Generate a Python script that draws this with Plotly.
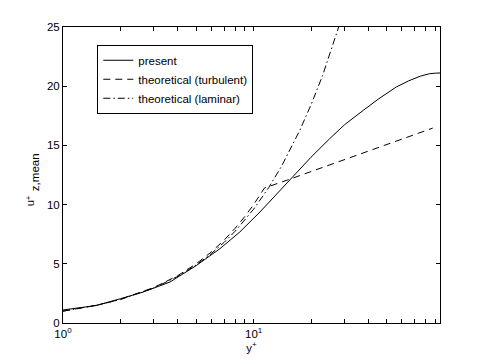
import plotly.graph_objects as go

# values
present_y = [1, 1.5, 2, 2.64, 3.64, 5.0, 6.66, 8.47, 10.8, 15.5, 20, 25, 30, 37.6, 45, 56, 65,
             75, 84, 90, 95]
present_u = [1.1, 1.48, 2.05, 2.62, 3.46, 4.85, 6.28, 7.69, 9.38, 12.1, 14.0, 15.55, 16.75, 17.96,
             18.9, 19.93, 20.45, 20.85, 21.06, 21.1, 21.12]

turb_y = [1, 1.5, 2, 3, 4, 5, 6, 7, 8, 9, 10, 11, 11.4, 15, 20, 30, 40, 50, 60, 70, 80, 87]
turb_u = [1, 1.5, 2, 3, 4, 5, 6, 7, 8, 9, 10, 11, 11.4, 12.07, 12.79, 13.8, 14.52, 15.08, 15.54,
          15.92, 16.25, 16.46]

lam_y = [1, 1.5, 2, 3, 4, 5, 6, 7, 8, 10, 12, 14, 17.5, 20, 23, 26, 28.3, 30]
lam_u = [1, 1.5, 1.98, 2.96, 3.94, 4.9, 5.86, 6.81, 7.75, 9.61, 11.44, 13.23, 16.3, 18.43, 20.9,
         23.35, 25.16, 26.5]

x_ticks = [1, 2, 3, 4, 5, 6, 7, 8, 9, 10, 20, 30, 40, 50, 60, 70, 80, 90]
x_tick_text = ["10<sup>0</sup>", "", "", "", "", "", "", "", "", "10<sup>1</sup>",
               "", "", "", "", "", "", "", ""]
y_ticks = [0, 5, 10, 15, 20, 25]

FONT = "Liberation Sans, Arial, sans-serif"
FS = 11.5

fig = go.Figure()
fig.add_trace(go.Scatter(x=present_y, y=present_u, mode="lines", name="present",
                         line=dict(color="black", width=1)))
fig.add_trace(go.Scatter(x=turb_y, y=turb_u, mode="lines", name="theoretical (turbulent)",
                         line=dict(color="black", width=1, dash="7px,5px")))
fig.add_trace(go.Scatter(x=lam_y, y=lam_u, mode="lines", name="theoretical (laminar)",
                         line=dict(color="black", width=1, dash="7px,3px,1.5px,3px")))

fig.update_layout(
    width=485, height=364,
    margin=dict(l=63, r=45, t=27, b=41),
    paper_bgcolor="white", plot_bgcolor="white",
    font=dict(family=FONT, size=FS, color="black"),
    showlegend=True,
    legend=dict(x=0.091, y=0.94, xanchor="left", yanchor="top",
                bgcolor="white", bordercolor="black", borderwidth=1,
                font=dict(size=FS), tracegroupgap=0),
    xaxis=dict(type="log", range=[0, 1.9777], showgrid=False, zeroline=False,
               showline=True, linecolor="black", linewidth=1, mirror="ticks",
               ticks="inside", ticklen=4, tickcolor="black",
               tickmode="array", tickvals=x_ticks, ticktext=x_tick_text,
               title=dict(text="y<sup>+</sup>", standoff=4, font=dict(size=FS))),
    yaxis=dict(range=[0, 25], showgrid=False, zeroline=False,
               showline=True, linecolor="black", linewidth=1, mirror="ticks",
               ticks="inside", ticklen=4, tickcolor="black",
               tickmode="array", tickvals=y_ticks),
)

# y label: u with stacked + and z,mean (rotated pieces)
fig.add_annotation(text="u", textangle=-90, xref="paper", yref="paper",
                   x=-0.087, y=0.405, showarrow=False, xanchor="center", yanchor="middle",
                   font=dict(size=FS))
fig.add_annotation(text="+", textangle=-90, xref="paper", yref="paper",
                   x=-0.093, y=0.425, showarrow=False, xanchor="center", yanchor="middle",
                   font=dict(size=8))
fig.add_annotation(text="z,mean", textangle=-90, xref="paper", yref="paper",
                   x=-0.074, y=0.51, showarrow=False, xanchor="center", yanchor="middle",
                   font=dict(size=FS))

# page has a default body margin; drop it so the figure sits at the window origin
fig.write_html("out.html", config={"displayModeBar": False},
               post_script="document.body.style.margin='0';")
